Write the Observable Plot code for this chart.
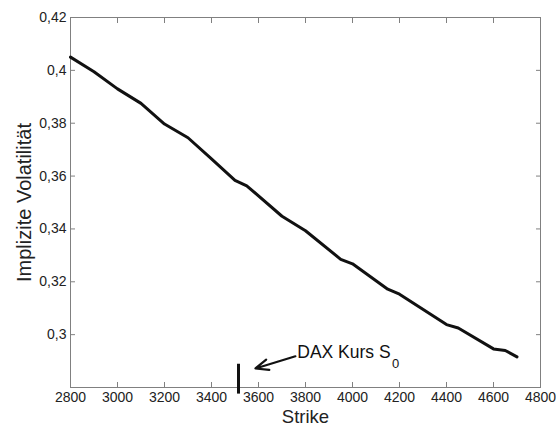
<!DOCTYPE html>
<html>
<head>
<meta charset="utf-8">
<script src="https://cdn.jsdelivr.net/npm/d3@7"></script>
<script src="https://cdn.jsdelivr.net/npm/@observablehq/plot@0.6"></script>
<style>
  html, body { margin: 0; padding: 0; background: #fff; }
  #chart svg { display: block; }
</style>
</head>
<body>
<div id="chart"></div>
<script>
// Data
const strikes = [2800, 2900, 3000, 3100, 3200, 3300, 3400, 3500, 3550, 3700, 3800, 3950, 4000, 4150, 4200, 4400, 4450, 4600, 4650, 4700];
const impliedVol = [0.405, 0.3995, 0.393, 0.3875, 0.3797, 0.3745, 0.3665, 0.3584, 0.3563, 0.3448, 0.3393, 0.3285, 0.3268, 0.3172, 0.3153, 0.3038, 0.3025, 0.2946, 0.2940, 0.2916];

const xTicks = [2800, 3000, 3200, 3400, 3600, 3800, 4000, 4200, 4400, 4600, 4800];
const yTicks = [0.3, 0.32, 0.34, 0.36, 0.38, 0.4, 0.42];

// Annotation: DAX spot S0
const s0 = [3515];
const s0Bar = [0.2888, 0.2775];
const arrowFrom = [3757, 0.2918];
const arrowTo = [3587, 0.2872];
const annText = ["DAX Kurs S", "0"];
const annPos = [[3765, 0.2931], [4168, 0.2889]];

const xLabel = "Strike";
const yLabel = "Implizite Volatilität";

const data = strikes.map((s, i) => ({strike: s, vol: impliedVol[i]}));
const fmtY = d => String(d).replace(".", ",");
const fmtX = d => String(d);
const grey = "#808080";

const chart = Plot.plot({
  width: 556,
  height: 427,
  marginLeft: 70,
  marginRight: 16,
  marginTop: 17,
  marginBottom: 40,
  style: {fontFamily: "'Liberation Sans', Arial, sans-serif", background: "#fff", color: "#222"},
  x: {domain: [2800, 4800]},
  y: {domain: [0.28, 0.42]},
  marks: [
    Plot.frame({stroke: grey}),
    // ticks (inward) on all four sides
    Plot.axisX(xTicks, {anchor: "bottom", tickSize: -5, stroke: grey, fill: "none", label: null}),
    Plot.axisX(xTicks, {anchor: "top", tickSize: -5, stroke: grey, fill: "none", label: null}),
    Plot.axisY(yTicks, {anchor: "left", tickSize: -5, stroke: grey, fill: "none", label: null}),
    Plot.axisY(yTicks, {anchor: "right", tickSize: -5, stroke: grey, fill: "none", label: null}),
    // tick labels
    Plot.axisX(xTicks, {anchor: "bottom", tickSize: 0, tickPadding: 5, stroke: "none", fill: "#222", fontSize: 14, tickFormat: fmtX, label: null}),
    Plot.axisY(yTicks, {anchor: "left", tickSize: 0, tickPadding: 4, stroke: "none", fill: "#222", fontSize: 14, tickFormat: fmtY, label: null}),
    // axis titles
    Plot.text([xLabel], {frameAnchor: "bottom", lineAnchor: "middle", textAnchor: "middle", dy: 30, fontSize: 18.5, fill: "#222", text: d => d}),
    Plot.text([yLabel], {frameAnchor: "left", lineAnchor: "middle", textAnchor: "middle", dx: -46, rotate: -90, fontSize: 20, fill: "#222", text: d => d}),
    // curve
    Plot.line(data, {x: "strike", y: "vol", stroke: "#111", strokeWidth: 3, strokeLinejoin: "round"}),
    // S0 marker
    Plot.ruleX(s0, {x: d => d, y1: s0Bar[0], y2: s0Bar[1], stroke: "#111", strokeWidth: 3, clip: false}),
    Plot.arrow([0], {x1: arrowFrom[0], y1: arrowFrom[1], x2: arrowTo[0], y2: arrowTo[1], stroke: "#111", strokeWidth: 2.2, headLength: 11, headAngle: 45}),
    Plot.text([0], {x: annPos[0][0], y: annPos[0][1], text: () => annText[0], textAnchor: "start", fontSize: 17.5, fill: "#111"}),
    Plot.text([0], {x: annPos[1][0], y: annPos[1][1], text: () => annText[1], textAnchor: "start", fontSize: 13, fill: "#111"})
  ]
});
document.getElementById("chart").appendChild(chart);
</script>
</body>
</html>
